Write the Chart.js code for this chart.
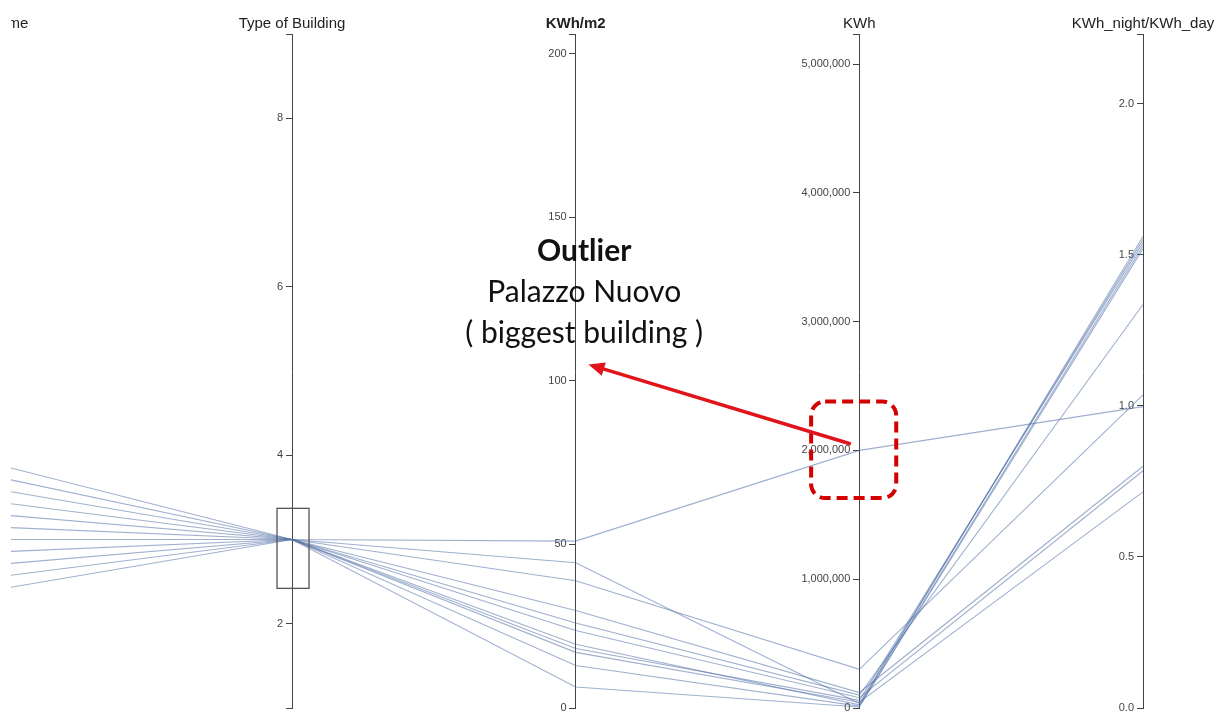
<!DOCTYPE html>
<html>
<head>
<meta charset="utf-8">
<title>Buildings - parallel coordinates</title>
<script src="https://cdn.jsdelivr.net/npm/chart.js@4.4.1/dist/chart.umd.min.js"></script>
<style>
  html, body { margin: 0; padding: 0; background: #fff; }
  #wrap { width: 1209px; height: 711px; padding-left: 11px; }
  canvas { display: block; }
</style>
</head>
<body>
<div id="wrap"><canvas id="parcoords" width="1209" height="711"></canvas></div>
<script>
const dimNames = ['Name', 'Type of Building', 'KWh/m2', 'KWh', 'KWh_night/KWh_day'];
const domainMin = [0, 1, 0, 0, 0];
const domainMax = [56, 9, 206, 5233000, 2.23];

// buildings left after brushing "Type of Building" = 3
const nameIndex = [20, 19, 18, 17, 16, 15, 14, 13, 12, 11, 10];
const buildingType = [3, 3, 3, 3, 3, 3, 3, 3, 3, 3, 3];
const kwhPerM2 = [51, 44.4, 38.9, 29.8, 26, 23.7, 19.5, 18.2, 17, 13, 6.4];
const kwh = [2000000, 35000, 300000, 120000, 100000, 80000, 25000, 60000, 45000, 15000, 8000];
const nightDay = [0.997, 1.55, 1.036, 0.80, 1.335, 0.785, 1.56, 1.54, 0.715, 1.53, 1.52];

const typeTicks = [2, 4, 6, 8];
const kwhm2Ticks = [0, 50, 100, 150, 200];
const kwhTicks = [0, 1000000, 2000000, 3000000, 4000000, 5000000];
const ratioTicks = [0, 0.5, 1, 1.5, 2];

const brushType = [2.42, 3.37];
const outlierNote = ['Outlier', 'Palazzo Nuovo', '( biggest building )'];

const axisFont = "'Liberation Sans', Arial, sans-serif";
const noteFont = "Lato, 'Open Sans', sans-serif";
const dimAxisIds = ['yType', 'yKwhm2', 'yKwh', 'yRatio'];

const columns = [nameIndex, buildingType, kwhPerM2, kwh, nightDay];
const datasets = nameIndex.map(function(_, r) {
    return {
        data: columns.map(function(col, d) {
            return { x: d, y: (col[r] - domainMin[d]) / (domainMax[d] - domainMin[d]) };
        }),
        borderColor: 'rgba(80, 112, 165, 0.55)',
        borderWidth: 1.1,
        pointRadius: 0,
        showLine: true,
        tension: 0
    };
});

function dimAxis(d, tickVals, fmt) {
    return {
        type: 'linear',
        axis: 'y',
        position: { x: d },
        min: domainMin[d],
        max: domainMax[d],
        afterBuildTicks: function(scale) {
            const vals = [domainMin[d]].concat(tickVals, [domainMax[d]]);
            scale.ticks = vals.filter(function(v, i) { return vals.indexOf(v) === i; })
                .map(function(v) { return { value: v }; });
        },
        afterFit: function(scale) {
            scale.paddingTop = 0;
            scale.paddingBottom = 0;
        },
        ticks: {
            display: false,
            autoSkip: false,
            callback: function(v) { return tickVals.includes(v) ? fmt(v) : ''; }
        },
        grid: { drawOnChartArea: false, drawTicks: true, tickLength: 6, color: '#444' },
        border: { display: true, color: '#444', width: 1 }
    };
}

// tick labels sit left of the tick marks, d3 style
const axisLabels = {
    id: 'axisLabels',
    beforeDatasetsDraw: function(chart) {
        const ctx = chart.ctx;
        ctx.save();
        ctx.font = '11px ' + axisFont;
        ctx.fillStyle = '#444';
        ctx.textAlign = 'right';
        ctx.textBaseline = 'middle';
        dimAxisIds.forEach(function(id) {
            const sc = chart.scales[id];
            const ax = chart.scales.x.getPixelForValue(sc.options.position.x);
            sc.ticks.forEach(function(t) {
                const label = sc.options.ticks.callback(t.value);
                if (label) ctx.fillText(label, ax - 9, sc.getPixelForValue(t.value));
            });
        });
        ctx.restore();
    }
};

const overlay = {
    id: 'overlay',
    afterDatasetsDraw: function(chart) {
        const ctx = chart.ctx;
        const s = chart.scales;
        ctx.save();

        // brush box on Type of Building
        const bx = s.x.getPixelForValue(1);
        const top = s.yType.getPixelForValue(brushType[1]);
        const bot = s.yType.getPixelForValue(brushType[0]);
        ctx.strokeStyle = '#555';
        ctx.lineWidth = 1.3;
        ctx.strokeRect(bx - 15, top, 32, bot - top);

        // dashed box round the outlier
        const rx1 = s.x.getPixelForValue(2.83), rx2 = s.x.getPixelForValue(3.13);
        const ry1 = s.yKwh.getPixelForValue(2380000), ry2 = s.yKwh.getPixelForValue(1630000);
        ctx.strokeStyle = '#d40000';
        ctx.lineWidth = 4;
        ctx.setLineDash([11, 6]);
        ctx.beginPath();
        ctx.roundRect(rx1, ry1, rx2 - rx1, ry2 - ry1, 14);
        ctx.stroke();
        ctx.setLineDash([]);

        // arrow
        const tx = s.x.getPixelForValue(2.97), ty = s.yKwh.getPixelForValue(2050000);
        const hx = s.x.getPixelForValue(2.045), hy = s.yKwhm2.getPixelForValue(105);
        const ang = Math.atan2(hy - ty, hx - tx);
        ctx.strokeStyle = '#e0141a';
        ctx.fillStyle = '#e0141a';
        ctx.lineWidth = 3.5;
        ctx.beginPath();
        ctx.moveTo(tx, ty);
        ctx.lineTo(hx - 12 * Math.cos(ang), hy - 12 * Math.sin(ang));
        ctx.stroke();
        ctx.beginPath();
        ctx.moveTo(hx, hy);
        ctx.lineTo(hx - 16 * Math.cos(ang) + 7 * Math.sin(ang), hy - 16 * Math.sin(ang) - 7 * Math.cos(ang));
        ctx.lineTo(hx - 16 * Math.cos(ang) - 7 * Math.sin(ang), hy - 16 * Math.sin(ang) + 7 * Math.cos(ang));
        ctx.closePath();
        ctx.fill();

        // note text
        const cx = s.x.getPixelForValue(2.03);
        const rows = [139.5, 127, 114.6];
        ctx.fillStyle = '#111';
        ctx.textAlign = 'center';
        ctx.textBaseline = 'middle';
        outlierNote.forEach(function(t, i) {
            ctx.font = (i === 0 ? 'bold ' : '') + '30px ' + noteFont;
            ctx.fillText(t, cx, s.yKwhm2.getPixelForValue(rows[i]));
        });
        ctx.restore();
    }
};

new Chart(document.getElementById('parcoords').getContext('2d'), {
    type: 'scatter',
    data: { datasets: datasets },
    options: {
        responsive: false,
        animation: false,
        events: [],
        layout: { padding: { top: 0, bottom: 3, left: 0, right: 0 } },
        plugins: { legend: { display: false }, tooltip: { enabled: false } },
        scales: {
            x: {
                type: 'linear',
                position: 'top',
                min: 0.0094,
                max: 4.2714,
                afterBuildTicks: function(scale) {
                    scale.ticks = dimNames.map(function(_, i) { return { value: i }; });
                },
                afterFit: function(scale) {
                    scale.paddingLeft = 0;
                    scale.paddingRight = 0;
                    scale.height = 34;
                },
                ticks: {
                    autoSkip: false,
                    maxRotation: 0,
                    padding: 1,
                    color: '#222',
                    font: function(c) {
                        return { family: axisFont, size: 15, weight: c.index === 2 ? 'bold' : 'normal' };
                    },
                    callback: function(v) { return dimNames[v]; }
                },
                grid: { display: false, drawTicks: false },
                border: { display: false }
            },
            y: { min: 0, max: 1, display: false },
            yType: dimAxis(1, typeTicks, function(v) { return String(v); }),
            yKwhm2: dimAxis(2, kwhm2Ticks, function(v) { return String(v); }),
            yKwh: dimAxis(3, kwhTicks, function(v) { return v.toLocaleString('en-US'); }),
            yRatio: dimAxis(4, ratioTicks, function(v) { return v.toFixed(1); })
        }
    },
    plugins: [axisLabels, overlay]
});
</script>
</body>
</html>
